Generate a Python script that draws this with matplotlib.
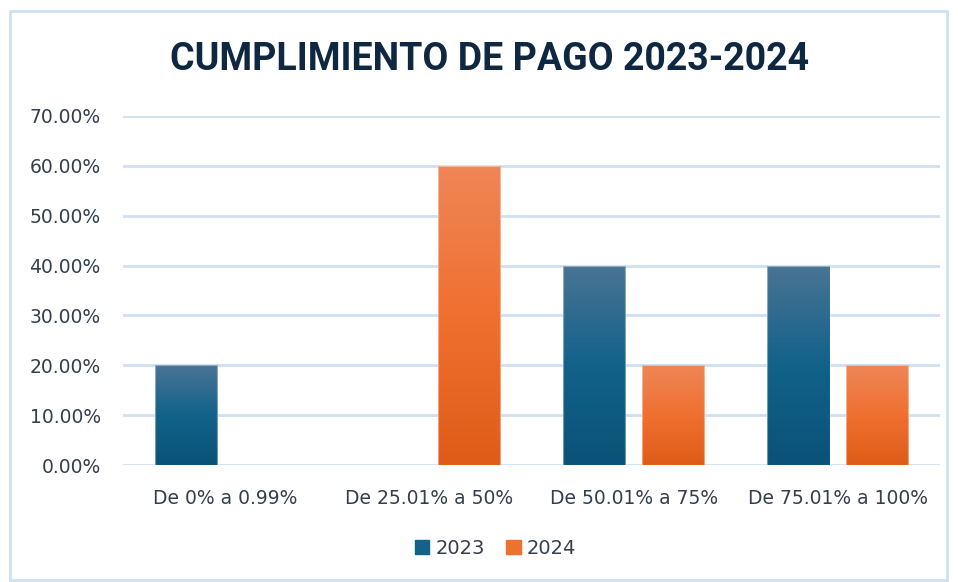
import numpy as np
import matplotlib
matplotlib.use("Agg")
import matplotlib.pyplot as plt
from matplotlib.colors import LinearSegmentedColormap
from matplotlib.patches import Rectangle
from matplotlib.ticker import FuncFormatter

# data
categorias = ["De 0% a 0.99%", "De 25.01% a 50%", "De 50.01% a 75%", "De 75.01% a 100%"]
serie_2023 = [0.20, 0.0, 0.40, 0.40]
serie_2024 = [0.0, 0.60, 0.20, 0.20]
anios = ["2023", "2024"]

azul = ["#0a5276", "#12628a", "#4a7494"]      # bottom -> top
naranja = ["#de5c17", "#f07030", "#ee8657"]
texto = "#333f4f"
grid_col = "#cfe0f3"

fig = plt.figure(figsize=(9.58, 5.82), dpi=100)
ax = fig.add_axes([0.1284, 0.201, 0.8528, 0.5997])

x = np.arange(len(categorias))
w = 0.305
off = 0.193

for vals, cols, dx in [(serie_2023, azul, -off), (serie_2024, naranja, off)]:
    cmap = LinearSegmentedColormap.from_list("g", cols)
    bars = ax.bar(x + dx, vals, w, facecolor="none", edgecolor="none", zorder=3)
    for b in bars:
        if b.get_height() <= 0:
            continue
        grad = np.linspace(0, 1, 256).reshape(-1, 1)
        im = ax.imshow(grad, cmap=cmap, origin="lower", aspect="auto",
                       extent=[b.get_x(), b.get_x() + b.get_width(), 0, b.get_height()],
                       zorder=3)
        im.set_clip_path(b)
        # light outline
        ax.add_patch(Rectangle((b.get_x(), 0), b.get_width(), b.get_height(),
                               fill=False, edgecolor="#ffffff", linewidth=0.8,
                               alpha=0.4, zorder=4))

ax.set_xlim(-0.5, len(categorias) - 0.5)
ax.set_ylim(0, 0.7)
ax.set_yticks(np.arange(0, 0.71, 0.1))
ax.yaxis.set_major_formatter(FuncFormatter(lambda v, p: f"{v*100:.2f}%"))
ax.set_xticks(x)
ax.set_xticklabels(categorias)
ax.tick_params(length=0, colors=texto, labelsize=13.5)
ax.tick_params(axis="y", pad=16)
ax.tick_params(axis="x", pad=17)
ax.grid(axis="y", color=grid_col, linewidth=2, zorder=0)
ax.set_axisbelow(True)
for s in ax.spines.values():
    s.set_visible(False)

fig.text(0.5115, 0.898, "CUMPLIMIENTO DE PAGO 2023-2024", ha="center", va="center",
         fontsize=27, fontweight="bold", color="#0e2841", family="Roboto")

# legend
handles = [Rectangle((0, 0), 1, 1, color=azul[1]), Rectangle((0, 0), 1, 1, color=naranja[1])]
fig.legend(handles, anios, loc="center", bbox_to_anchor=(0.517, 0.058), ncol=2,
           frameon=False, fontsize=14, labelcolor=texto, handlelength=0.75,
           handleheight=0.75, handletextpad=0.3, columnspacing=1.1)

# outer border
fig.add_artist(Rectangle((10 / 958, 2 / 582), 937 / 958, 569 / 582, fill=False,
                         edgecolor="#cfe0f3", linewidth=2, transform=fig.transFigure))

fig.savefig("out.png", dpi=100)
